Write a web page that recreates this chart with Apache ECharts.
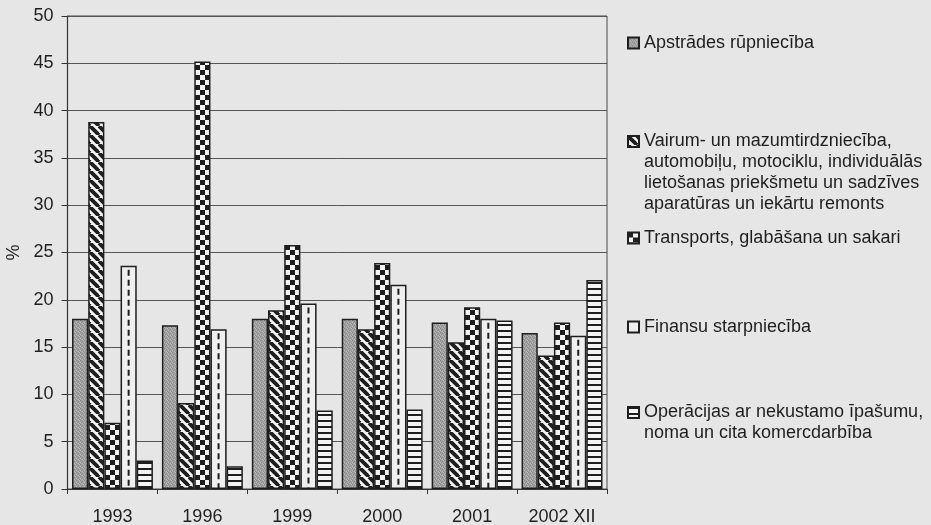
<!DOCTYPE html>
<html>
<head>
<meta charset="utf-8">
<script src="https://cdn.jsdelivr.net/npm/echarts@6/dist/echarts.min.js"></script>
<style>
  html, body { margin: 0; padding: 0; background: #e6e6e6; }
  #chart { width: 931px; height: 525px; }
</style>
</head>
<body>
<div id="chart"></div>
<script>
// Years (2002 XII = December 2002)
const categories = ['1993', '1996', '1999', '2000', '2001', '2002 XII'];

// Sector names
const seriesNames = [
  'Apstrādes rūpniecība',
  'Vairum- un mazumtirdzniecība, automobiļu, motociklu, individuālās lietošanas priekšmetu un sadzīves aparatūras un iekārtu remonts',
  'Transports, glabāšana un sakari',
  'Finansu starpniecība',
  'Operācijas ar nekustamo īpašumu, noma un cita komercdarbība'
];

// Legend text, wrapped
const legendLabels = [
  'Apstrādes rūpniecība',
  'Vairum- un mazumtirdzniecība,\nautomobiļu, motociklu, individuālās\nlietošanas priekšmetu un sadzīves\naparatūras un iekārtu remonts',
  'Transports, glabāšana un sakari',
  'Finansu starpniecība',
  'Operācijas ar nekustamo īpašumu,\nnoma un cita komercdarbība'
];

// Shares, %
const manufacturing = [18.0, 17.3, 18.0, 18.0, 17.6, 16.5];
const trade         = [38.8, 9.1, 18.9, 16.9, 15.5, 14.1];
const transport     = [7.0, 45.2, 25.8, 23.9, 19.2, 17.6];
const finance       = [23.6, 16.9, 19.6, 21.6, 18.0, 16.2];
const realEstate    = [3.0, 2.4, 8.3, 8.4, 17.8, 22.1];

const yTicks = { min: 0, max: 50, interval: 5 };

const FONT = "'Liberation Sans', Arial, sans-serif";
const INK = '#1e1e1e';
const LABEL = '#1f1f1f';

function makeCanvas(w, h, draw) {
  const c = document.createElement('canvas');
  c.width = w; c.height = h;
  draw(c.getContext('2d'), w, h);
  return c;
}

// stippled grey
const stipple = makeCanvas(4, 4, (g, w, h) => {
  g.fillStyle = '#a3a3a3'; g.fillRect(0, 0, w, h);
  g.fillStyle = '#888';
  [[0,0],[2,1],[1,2],[3,3]].forEach(p => g.fillRect(p[0], p[1], 1, 1));
  g.fillStyle = '#bbb';
  [[2,3],[0,2],[3,0]].forEach(p => g.fillRect(p[0], p[1], 1, 1));
});

// wide "\" diagonal stripes
const diagonal = makeCanvas(9, 9, (g, w, h) => {
  g.fillStyle = '#f4f4f4'; g.fillRect(0, 0, w, h);
  g.strokeStyle = INK; g.lineWidth = 3.8;
  [-9, 0, 9].forEach(o => { g.beginPath(); g.moveTo(o, 0); g.lineTo(o + 9, 9); g.stroke(); });
});

// checkerboard
const checker = makeCanvas(10, 10, (g, w, h) => {
  g.fillStyle = '#f4f4f4'; g.fillRect(0, 0, w, h);
  g.fillStyle = INK;
  g.fillRect(0, 0, 5, 5); g.fillRect(5, 5, 5, 5);
});

// horizontal stripes
const horizontal = makeCanvas(6, 6, (g, w, h) => {
  g.fillStyle = '#f4f4f4'; g.fillRect(0, 0, w, h);
  g.fillStyle = INK; g.fillRect(0, 0, w, 2);
});

const fills = [
  { image: stipple, repeat: 'repeat' },
  { image: diagonal, repeat: 'repeat' },
  { image: checker, repeat: 'repeat' },
  '#efefef',
  { image: horizontal, repeat: 'repeat' }
];
const values = [manufacturing, trade, transport, finance, realEstate];

const barSeries = seriesNames.map((name, i) => ({
  name,
  type: 'bar',
  barGap: 0,
  barCategoryGap: '10%',
  data: values[i],
  itemStyle: { color: fills[i], borderColor: INK, borderWidth: 1.5 },
  emphasis: { disabled: true }
}));

// dashed centre line of the "Finansu starpniecība" bars (4th of 5 bars in a group)
const financeDash = {
  type: 'custom',
  silent: true,
  z: 3,
  data: finance.map((v, i) => [i, v]),
  renderItem(params, api) {
    const top = api.coord([api.value(0), api.value(1)]);
    const base = api.coord([api.value(0), 0]);
    const band = api.size([1, 0])[0];
    const x = top[0] + band * 0.18;
    return {
      type: 'line',
      shape: { x1: x, y1: top[1] + 4, x2: x, y2: base[1] - 1 },
      style: { stroke: INK, lineWidth: 2, lineDash: [6, 4] }
    };
  }
};

// one legend block per sector; blank lines above keep the first text line level with the icon
const legendTops = [32.5, 68, 227.5, 316.5, 381];
const legends = seriesNames.map((name, i) => {
  const lines = legendLabels[i].split('\n').length;
  const text = '\n'.repeat(lines - 1) + legendLabels[i];
  return {
    data: [name],
    left: 627,
    top: legendTops[i],
    orient: 'vertical',
    padding: 0,
    itemGap: 0,
    itemWidth: 11,
    itemHeight: 11,
    icon: 'rect',
    selectedMode: false,
    formatter: () => text,
    textStyle: { fontFamily: FONT, fontSize: 18, lineHeight: 21, color: INK }
  };
});

const chart = echarts.init(document.getElementById('chart'), null, { renderer: 'canvas' });
chart.setOption({
  backgroundColor: '#e6e6e6',
  animation: false,
  textStyle: { fontFamily: FONT },
  legend: legends,
  grid: {
    left: 67.5, right: 324, top: 16, bottom: 36,
    outerBoundsMode: 'none',
    containLabel: false,
    show: true, borderColor: '#4a4a4a', borderWidth: 1, backgroundColor: 'transparent'
  },
  xAxis: {
    type: 'category',
    data: categories,
    axisLine: { lineStyle: { color: '#333', width: 1.2 } },
    axisTick: { show: true, length: 5, lineStyle: { color: '#333' } },
    axisLabel: { fontSize: 18, color: LABEL, margin: 19, fontFamily: FONT }
  },
  yAxis: {
    type: 'value',
    min: yTicks.min, max: yTicks.max, interval: yTicks.interval,
    name: '%',
    nameLocation: 'middle',
    nameGap: 44,
    nameRotate: 90,
    nameTextStyle: { fontSize: 18, color: LABEL, fontFamily: FONT },
    axisLine: { show: true, lineStyle: { color: '#333', width: 1.2 } },
    axisTick: { show: true, length: 6, lineStyle: { color: '#333' } },
    axisLabel: { fontSize: 18, color: LABEL, margin: 14, fontFamily: FONT },
    splitLine: { lineStyle: { color: '#555', width: 1 } }
  },
  series: [...barSeries, financeDash]
});
</script>
</body>
</html>
